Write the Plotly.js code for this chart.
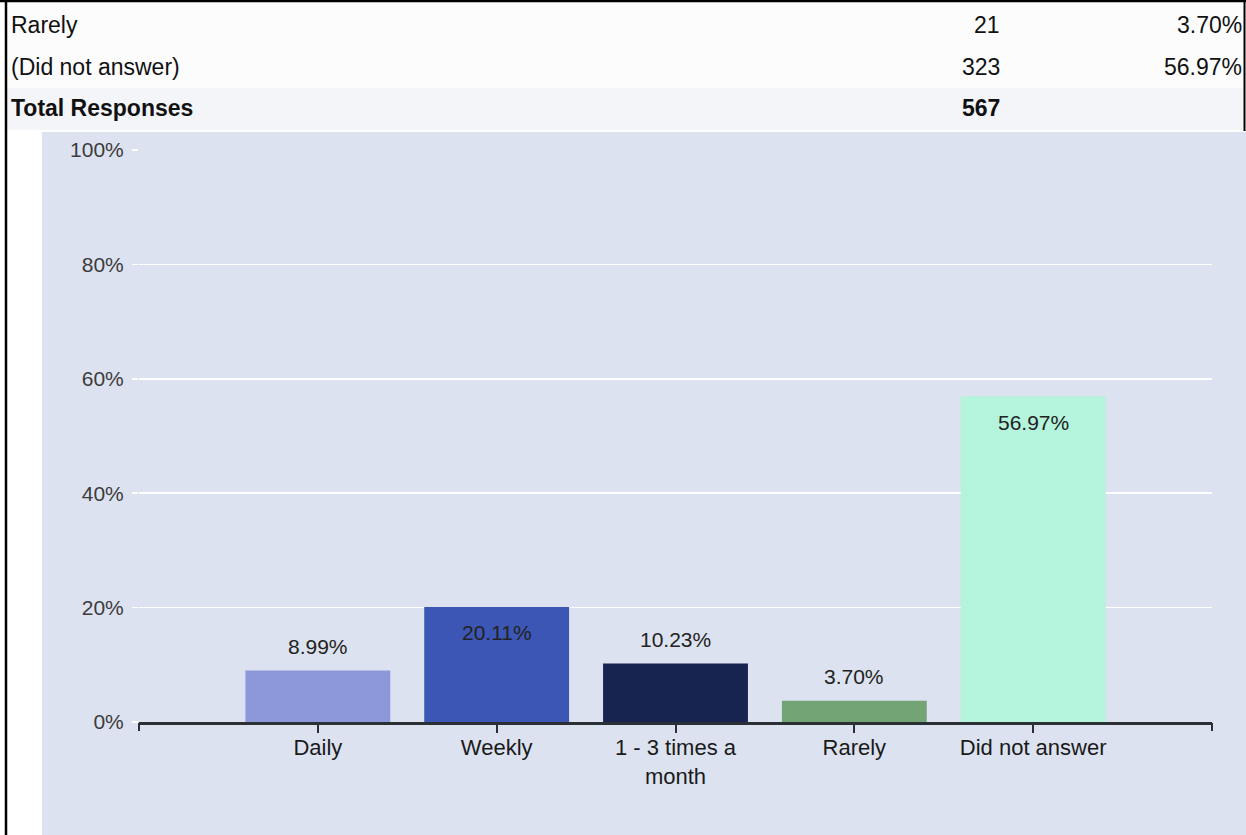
<!DOCTYPE html>
<html>
<head>
<meta charset="utf-8">
<script src="https://cdn.plot.ly/plotly-3.0.1.min.js"></script>
<style>
  html, body { margin: 0; padding: 0; background: #ffffff; }
  #chart { width: 1246px; height: 835px; }
</style>
</head>
<body>
<div id="chart"></div>
<script>
// ---- data ----
const categories = ['Daily', 'Weekly', '1 - 3 times a month', 'Rarely', 'Did not answer'];
const tickLabels = ['Daily', 'Weekly', '1 - 3 times a<br>month', 'Rarely', 'Did not answer'];
const percents = [8.99, 20.11, 10.23, 3.70, 56.97];
const barColors = ['#8c98d9', '#3c56b5', '#17244f', '#72a476', '#b4f4dc'];
const yTicks = [0, 20, 40, 60, 80, 100];
const yTickLabels = ['0%', '20%', '40%', '60%', '80%', '100%'];

const tableLabels = ['Rarely', '(Did not answer)', 'Total Responses'];
const tableCounts = ['21', '323', '567'];
const tablePercents = ['3.70%', '56.97%', ''];

const insideLabels = ['Weekly', 'Did not answer'];

// ---- layout helpers ----
const W = 1246, H = 835;
const M = { l: 139, r: 34, t: 150, b: 113 };
const px = x => (x - M.l) / (W - M.l - M.r);
const py = y => (H - M.b - y) / (H - M.t - M.b);
const FONT = 'Liberation Sans, Arial, sans-serif';

const traces = [
  {
    type: 'bar',
    x: categories,
    y: percents,
    width: 0.81,
    marker: { color: barColors, line: { width: 0 } },
    hoverinfo: 'x+y',
    showlegend: false
  },
  { type: 'scatter', x: [], y: [], xaxis: 'x2', yaxis: 'y', hoverinfo: 'skip', showlegend: false }
];

const annotations = [];
categories.forEach((c, i) => {
  const inside = insideLabels.includes(c);
  annotations.push({
    x: c, y: percents[i], xref: 'x', yref: 'y',
    text: percents[i].toFixed(2) + '%',
    showarrow: false,
    yshift: inside ? -26 : 24,
    font: { family: FONT, size: 21, color: '#222222' }
  });
});

const rowY = [25, 67, 108];
tableLabels.forEach((lab, i) => {
  const bold = i === 2;
  const f = { family: FONT, size: 23, color: '#111111' };
  const t = s => bold ? '<b>' + s + '</b>' : s;
  annotations.push({ x: px(9), y: py(rowY[i]), xref: 'paper', yref: 'paper', xanchor: 'left', yanchor: 'middle', text: t(lab), showarrow: false, font: f });
  annotations.push({ x: px(1002), y: py(rowY[i]), xref: 'paper', yref: 'paper', xanchor: 'right', yanchor: 'middle', text: t(tableCounts[i]), showarrow: false, font: f });
  if (tablePercents[i]) {
    annotations.push({ x: px(1244), y: py(rowY[i]), xref: 'paper', yref: 'paper', xanchor: 'right', yanchor: 'middle', text: t(tablePercents[i]), showarrow: false, font: f });
  }
});

const shapes = [
  // table rows background
  { type: 'rect', xref: 'paper', yref: 'paper', x0: px(7), x1: px(1243), y0: py(2), y1: py(88), fillcolor: '#fcfcfd', line: { width: 0 }, layer: 'below' },
  { type: 'rect', xref: 'paper', yref: 'paper', x0: px(7), x1: px(1243), y0: py(88), y1: py(130), fillcolor: '#f4f5f9', line: { width: 0 }, layer: 'below' },
  // chart background
  { type: 'rect', xref: 'paper', yref: 'paper', x0: px(42), x1: px(1246), y0: py(132), y1: py(835), fillcolor: '#dce2ef', line: { width: 0 }, layer: 'below' },
  // borders
  { type: 'line', xref: 'paper', yref: 'paper', x0: px(6), x1: px(6), y0: py(0), y1: py(835), line: { color: '#000000', width: 2.5 }, layer: 'above' },
  { type: 'line', xref: 'paper', yref: 'paper', x0: px(0), x1: px(1246), y0: py(1), y1: py(1), line: { color: '#000000', width: 2.5 }, layer: 'above' },
  { type: 'line', xref: 'paper', yref: 'paper', x0: px(1244.5), x1: px(1244.5), y0: py(0), y1: py(131), line: { color: '#000000', width: 2 }, layer: 'above' }
];

const layout = {
  width: W, height: H,
  margin: M,
  paper_bgcolor: '#ffffff',
  plot_bgcolor: 'rgba(0,0,0,0)',
  font: { family: FONT },
  showlegend: false,
  xaxis: {
    type: 'category',
    categoryorder: 'array',
    categoryarray: categories,
    range: [-1, 5],
    tickvals: categories,
    ticktext: tickLabels,
    showgrid: false,
    zeroline: false,
    showline: true,
    linecolor: '#2b3035',
    linewidth: 2.5,
    ticks: 'outside',
    ticklen: 8,
    tickwidth: 2,
    tickcolor: '#2b3035',
    ticklabelstandoff: -4,
    tickfont: { family: FONT, size: 22, color: '#1a1a1a' },
    fixedrange: true
  },
  xaxis2: {
    overlaying: 'x',
    anchor: 'y',
    side: 'bottom',
    type: 'linear',
    range: [-1, 5],
    tickvals: [-1, 5],
    ticks: 'outside',
    ticklen: 8,
    tickwidth: 2,
    tickcolor: '#2b3035',
    showticklabels: false,
    showgrid: false,
    zeroline: false,
    showline: false,
    fixedrange: true
  },
  yaxis: {
    range: [0, 100],
    tickvals: yTicks,
    ticktext: yTickLabels,
    showgrid: true,
    gridcolor: '#ffffff',
    gridwidth: 1.5,
    zeroline: false,
    showline: false,
    ticks: 'outside',
    ticklen: 6,
    tickcolor: '#ffffff',
    tickwidth: 1.5,
    ticklabelstandoff: 4,
    tickfont: { family: FONT, size: 21, color: '#3c3c3c' },
    fixedrange: true
  },
  annotations: annotations,
  shapes: shapes
};

Plotly.newPlot('chart', traces, layout, { displayModeBar: false, staticPlot: true });
</script>
</body>
</html>
